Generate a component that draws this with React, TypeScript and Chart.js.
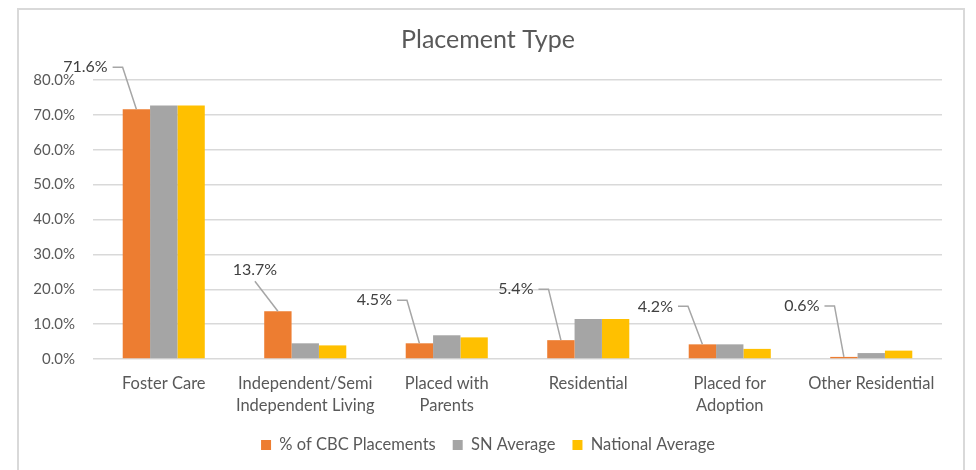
import React, { useEffect, useRef } from "react";
import { Chart, registerables } from "chart.js";

Chart.register(...registerables);

// ---- data ----
const categories: (string | string[])[] = [
  "Foster Care",
  ["Independent/Semi", "Independent Living"],
  ["Placed with", "Parents"],
  "Residential",
  ["Placed for", "Adoption"],
  "Other Residential",
];
const seriesNames = ["% of CBC Placements", "SN Average", "National Average"];
const cbcPlacements = [71.6, 13.7, 4.5, 5.4, 4.2, 0.6];
const snAverage = [72.7, 4.5, 6.8, 11.5, 4.2, 1.7];
const nationalAverage = [72.7, 3.9, 6.2, 11.5, 2.9, 2.4];
const yMin = 0;
const yMax = 80;
const yStep = 10;
const chartTitle = "Placement Type";

// ---- layout / style ----
const FONT = "Lato";
const colors = ["#ED7D31", "#A5A5A5", "#FFC000"];
const labelLayout = [
  { dx: -51, dy: -42, elbow: true },
  { dx: -23, dy: -41, elbow: false },
  { dx: -45, dy: -43, elbow: true },
  { dx: -45, dy: -51, elbow: true },
  { dx: -47, dy: -38, elbow: true },
  { dx: -42, dy: -51, elbow: true },
];

const leaderLabels = {
  id: "leaderLabels",
  afterDatasetsDraw(chart: any) {
    const meta = chart.getDatasetMeta(0);
    const ctx = chart.ctx as CanvasRenderingContext2D;
    ctx.save();
    ctx.font = `16px ${FONT}`;
    meta.data.forEach((bar: any, i: number) => {
      const v = chart.data.datasets[0].data[i] as number;
      const text = v.toFixed(1) + "%";
      const L = labelLayout[i];
      const cx = bar.x + L.dx;
      const cy = bar.y + L.dy;
      const w = ctx.measureText(text).width;
      ctx.strokeStyle = "#a6a6a6";
      ctx.lineWidth = 1.5;
      ctx.beginPath();
      if (L.elbow) {
        const sx = cx + w / 2 + 5;
        ctx.moveTo(sx, cy);
        ctx.lineTo(sx + 10, cy);
      } else {
        ctx.moveTo(cx, cy + 11);
      }
      ctx.lineTo(bar.x, bar.y);
      ctx.stroke();
      ctx.fillStyle = "#404040";
      ctx.textAlign = "center";
      ctx.textBaseline = "middle";
      ctx.fillText(text, cx, cy);
    });
    ctx.restore();
  },
};

export default function App() {
  const ref = useRef<HTMLCanvasElement | null>(null);
  useEffect(() => {
    document.body.style.margin = "0";
    if (!ref.current) return;
    const series = [cbcPlacements, snAverage, nationalAverage];
    const chart = new Chart(ref.current, {
      type: "bar",
      data: {
        labels: categories as any,
        datasets: series.map((d, i) => ({
          label: seriesNames[i],
          data: d,
          backgroundColor: colors[i],
          borderWidth: 0,
          categoryPercentage: 0.58,
          barPercentage: 1.0,
        })),
      },
      options: {
        responsive: false,
        animation: false,
        layout: { padding: { left: 0, right: 0, top: 0, bottom: 6.75 } },
        plugins: {
          title: {
            display: true,
            text: chartTitle,
            color: "#595959",
            font: { family: FONT, size: 25, weight: "normal" },
            padding: { top: 25, bottom: 25 },
          },
          legend: {
            position: "bottom",
            labels: {
              boxWidth: 10,
              boxHeight: 10,
              padding: 17,
              color: "#595959",
              font: { family: FONT, size: 16.5 },
            },
          },
          tooltip: { enabled: false },
        },
        scales: {
          x: {
            grid: { display: false, drawTicks: false },
            border: { display: false },
            ticks: {
              color: "#595959",
              font: { family: FONT, size: 16.5, lineHeight: 1.33 },
              padding: 14,
              maxRotation: 0,
              autoSkip: false,
            },
            afterFit: (s: any) => {
              s.height = 60.75;
            },
          },
          y: {
            min: yMin,
            max: yMax,
            grid: { color: "#d9d9d9", lineWidth: 1.5, drawTicks: false },
            border: { display: false },
            ticks: {
              stepSize: yStep,
              color: "#595959",
              font: { family: FONT, size: 15 },
              padding: 18,
              callback: (v: any) => Number(v).toFixed(1) + "%",
            },
            afterFit: (s: any) => {
              s.width = 93;
            },
          },
          yR: {
            type: "linear",
            position: "right",
            display: true,
            grid: { display: false, drawTicks: false },
            border: { display: false },
            ticks: { display: false },
            afterFit: (s: any) => {
              s.width = 34;
            },
          },
        },
      } as any,
      plugins: [leaderLabels],
    });
    return () => chart.destroy();
  }, []);

  return (
    <div style={{ position: "relative", width: 976, height: 470, overflow: "hidden", background: "#fff" }}>
      <canvas ref={ref} width={976} height={470} style={{ display: "block" }} />
      <div
        style={{
          position: "absolute",
          left: 17,
          top: 8,
          width: 948,
          height: 500,
          border: "2px solid #d9d9d9",
          boxSizing: "border-box",
          pointerEvents: "none",
        }}
      />
    </div>
  );
}
